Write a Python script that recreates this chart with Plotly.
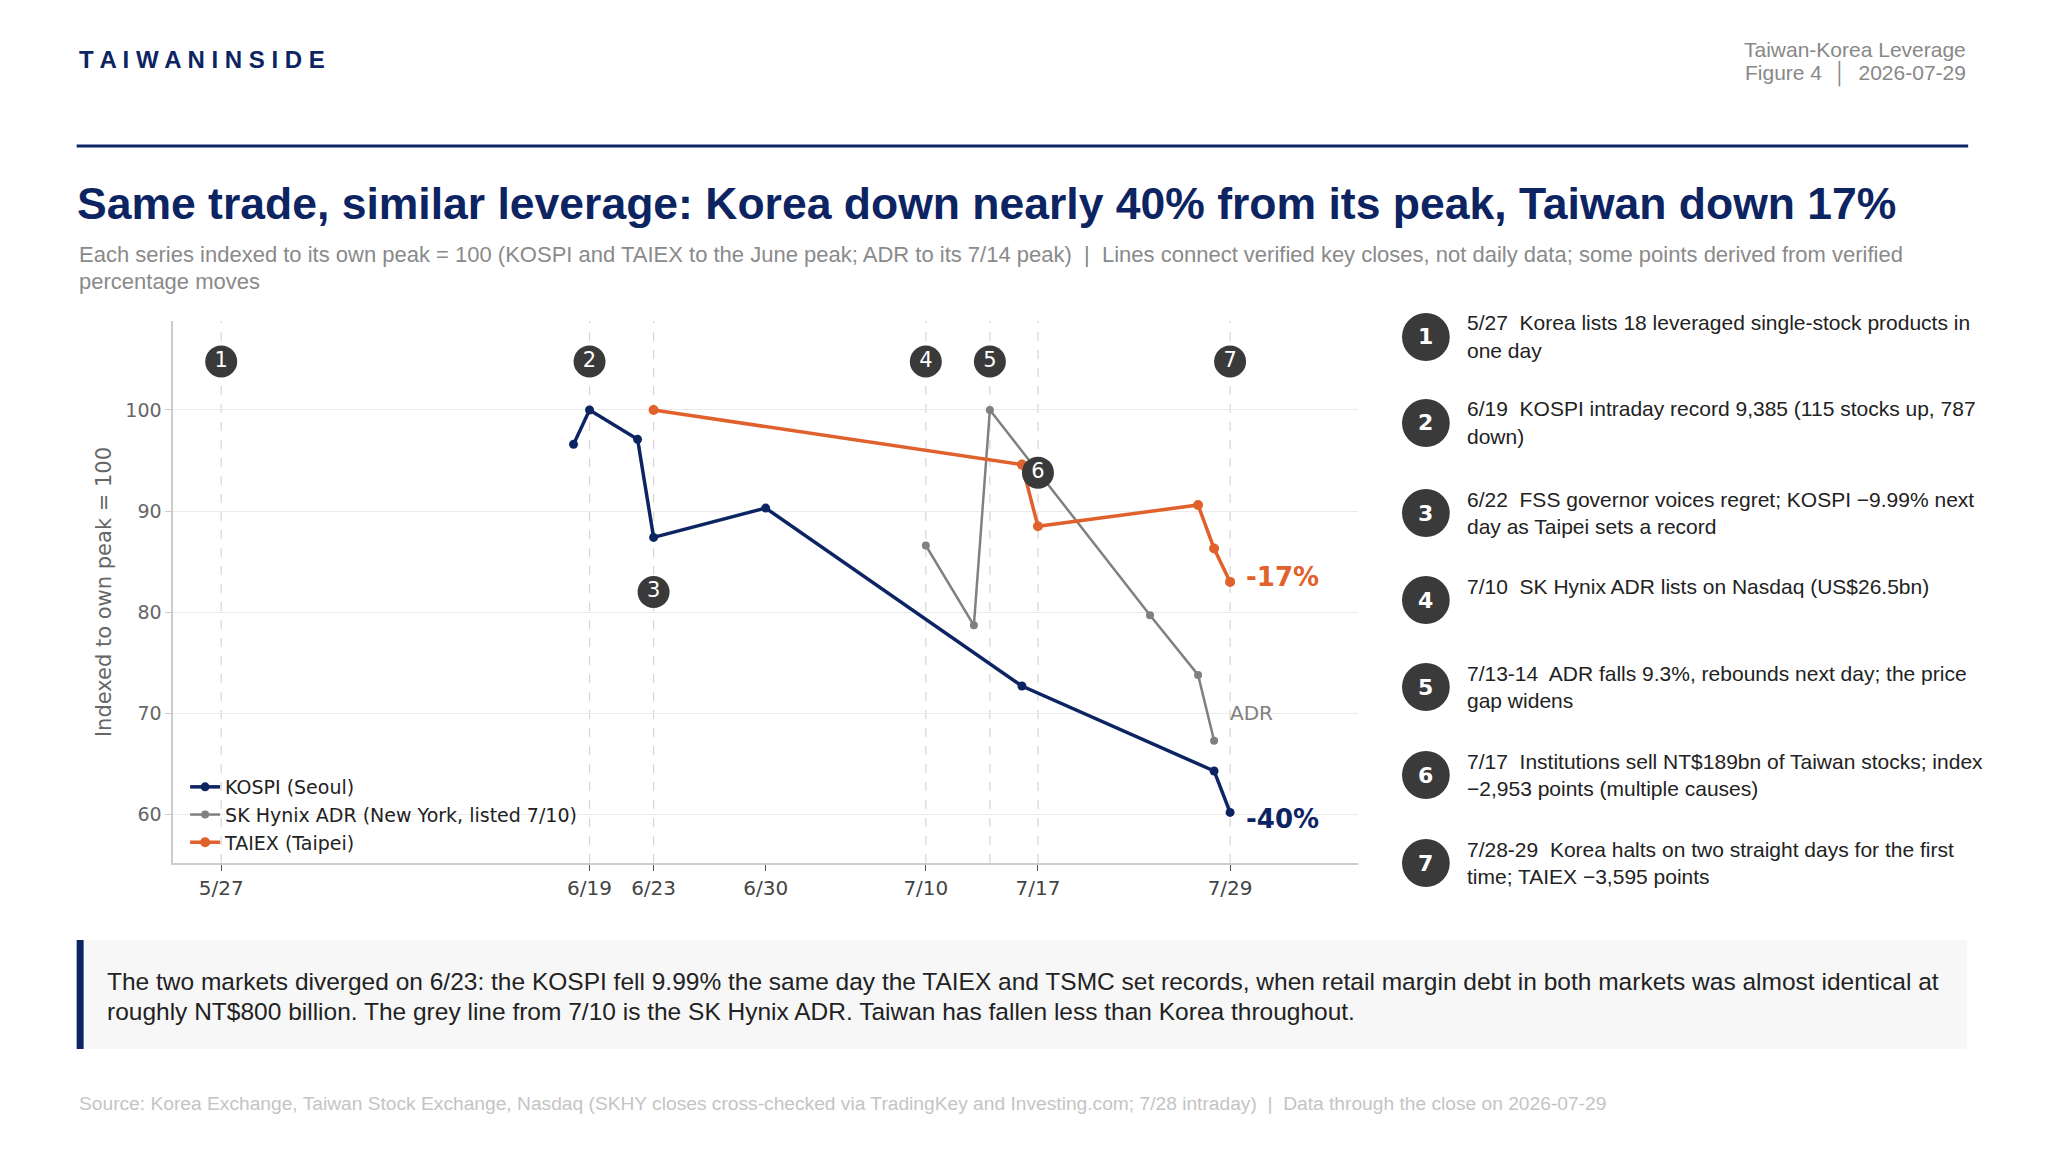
import plotly.graph_objects as go

kospi_dates = ["2026-06-18","2026-06-19","2026-06-22","2026-06-23","2026-06-30","2026-07-16","2026-07-28","2026-07-29"]
kospi_vals = [96.6, 100, 97.1, 87.4, 90.3, 72.7, 64.3, 60.2]
adr_dates = ["2026-07-10","2026-07-13","2026-07-14","2026-07-24","2026-07-27","2026-07-28"]
adr_vals = [86.6, 78.7, 100, 79.7, 73.8, 67.3]
taiex_dates = ["2026-06-23","2026-07-16","2026-07-17","2026-07-27","2026-07-28","2026-07-29"]
taiex_vals = [100, 94.6, 88.5, 90.6, 86.3, 83.0]

event_nums = ["1","2","3","4","5","6","7"]
event_dates = ["2026-05-27","2026-06-19","2026-06-23","2026-07-10","2026-07-14","2026-07-17","2026-07-29"]
event_y = [104.8, 104.8, 82.0, 104.8, 104.8, 93.8, 104.8]

tick_dates = ["2026-05-27","2026-06-19","2026-06-23","2026-06-30","2026-07-10","2026-07-17","2026-07-29"]
tick_labels = ["5/27","6/19","6/23","6/30","7/10","7/17","7/29"]

event_texts = [
    ("5/27", "Korea lists 18 leveraged single-stock products in", "one day"),
    ("6/19", "KOSPI intraday record 9,385 (115 stocks up, 787", "down)"),
    ("6/22", "FSS governor voices regret; KOSPI \u22129.99% next", "day as Taipei sets a record"),
    ("7/10", "SK Hynix ADR lists on Nasdaq (US$26.5bn)", ""),
    ("7/13-14", "ADR falls 9.3%, rebounds next day; the price", "gap widens"),
    ("7/17", "Institutions sell NT$189bn of Taiwan stocks; index", "\u22122,953 points (multiple causes)"),
    ("7/28-29", "Korea halts on two straight days for the first", "time; TAIEX \u22123,595 points"),
]

NAVY = "#0d2463"
ORANGE = "#e0612b"
GREY = "#808080"
DARK = "#3a3a3a"
W, H = 2046, 1151
OFF = 8
FW, FH = W - 2 * OFF, H - 2 * OFF
def px(x): return (x - OFF) / FW * 0.995
def py(y): return 1 - (y - OFF) / FH

fig = go.Figure()
fig.add_trace(go.Scatter(x=kospi_dates, y=kospi_vals, mode="lines+markers", name="KOSPI (Seoul)",
                         line=dict(color=NAVY, width=3.5), marker=dict(size=9, color=NAVY)))
fig.add_trace(go.Scatter(x=adr_dates, y=adr_vals, mode="lines+markers", name="SK Hynix ADR (New York, listed 7/10)",
                         line=dict(color=GREY, width=2.5), marker=dict(size=8, color=GREY)))
fig.add_trace(go.Scatter(x=taiex_dates, y=taiex_vals, mode="lines+markers", name="TAIEX (Taipei)",
                         line=dict(color=ORANGE, width=3.5), marker=dict(size=10, color=ORANGE)))
fig.add_trace(go.Scatter(x=event_dates, y=event_y, mode="markers+text", text=event_nums, showlegend=False,
                         marker=dict(size=32, color=DARK), textposition="middle center",
                         textfont=dict(color="white", size=21, family="DejaVu Sans"), hoverinfo="skip"))

shapes = []
for d in event_dates:
    shapes.append(dict(type="line", xref="x", yref="paper", x0=d, x1=d, y0=py(863), y1=py(321),
                       line=dict(color="#d6d6d6", width=1.2, dash="dash"), layer="below"))
shapes.append(dict(type="line", xref="paper", yref="paper", x0=px(77), x1=px(1978), y0=py(146), y1=py(146),
                   line=dict(color=NAVY, width=3)))
shapes.append(dict(type="rect", xref="paper", yref="paper", x0=px(77), x1=px(1977), y0=py(1049), y1=py(940),
                   fillcolor="#f7f7f7", line=dict(width=0), layer="below"))
shapes.append(dict(type="rect", xref="paper", yref="paper", x0=px(77), x1=px(84), y0=py(1049), y1=py(940),
                   fillcolor=NAVY, line=dict(width=0)))
item_y = [337, 423, 513, 600, 687, 775, 863]
for yy in item_y:
    shapes.append(dict(type="circle", xref="paper", yref="paper", x0=px(1433-24), x1=px(1433+24),
                       y0=py(yy+24), y1=py(yy-24), fillcolor=DARK, line=dict(width=0)))

ann = []
def A(x, y, text, size, color, xanchor="left", yanchor="middle", family="Liberation Sans", **kw):
    ann.append(dict(xref="paper", yref="paper", x=px(x), y=py(y), text=text, showarrow=False,
                    xanchor=xanchor, yanchor=yanchor, align="left" if xanchor == "left" else "right",
                    font=dict(size=size, color=color, family=family), **kw))

A(77, 60, "<b>T A I W A N I N S I D E</b>", 24, NAVY)
A(1978, 49, "Taiwan-Korea Leverage", 21, "#888888", xanchor="right")
A(1978, 74, "Figure 4  \u2502  2026-07-29", 21, "#888888", xanchor="right")
A(75, 203, "<b>Same trade, similar leverage: Korea down nearly 40% from its peak, Taiwan down 17%</b>", 44.5, NAVY)
A(77, 254, "Each series indexed to its own peak = 100 (KOSPI and TAIEX to the June peak; ADR to its 7/14 peak)  |  Lines connect verified key closes, not daily data; some points derived from verified", 22, "#8a8a8a")
A(77, 281, "percentage moves", 22, "#8a8a8a")
for i, (yy, (d, l1, l2)) in enumerate(zip(item_y, event_texts)):
    ann.append(dict(xref="paper", yref="paper", x=px(1433), y=py(yy), text=f"<b>{i+1}</b>", showarrow=False,
                    xanchor="center", yanchor="middle",
                    font=dict(size=22, color="white", family="DejaVu Sans")))
    A(1472, yy - 14, f"{d}  {l1}", 21, "#222222")
    if l2:
        A(1472, yy + 13, l2, 21, "#222222")
A(105, 981, "The two markets diverged on 6/23: the KOSPI fell 9.99% the same day the TAIEX and TSMC set records, when retail margin debt in both markets was almost identical at", 24.5, "#222222")
A(105, 1011, "roughly NT$800 billion. The grey line from 7/10 is the SK Hynix ADR. Taiwan has fallen less than Korea throughout.", 24.5, "#222222")
A(77, 1103, "Source: Korea Exchange, Taiwan Stock Exchange, Nasdaq (SKHY closes cross-checked via TradingKey and Investing.com; 7/28 intraday)  |  Data through the close on 2026-07-29", 19.2, "#c4c4c4")

ann.append(dict(xref="x", yref="y", x=taiex_dates[-1], y=taiex_vals[-1] + 0.5, text="<b>-17%</b>", showarrow=False,
                xanchor="left", xshift=14, font=dict(size=26, color=ORANGE, family="DejaVu Sans")))
ann.append(dict(xref="x", yref="y", x=kospi_dates[-1], y=kospi_vals[-1] - 0.6, text="<b>-40%</b>", showarrow=False,
                xanchor="left", xshift=14, font=dict(size=26, color=NAVY, family="DejaVu Sans")))
ann.append(dict(xref="x", yref="y", x=kospi_dates[-1], y=70.0, text="ADR", showarrow=False,
                xanchor="left", xshift=-2, font=dict(size=20, color=GREY, family="DejaVu Sans")))

fig.update_layout(
    width=FW, height=FH, margin=dict(l=0, r=0, t=0, b=0),
    paper_bgcolor="white", plot_bgcolor="white",
    font=dict(family="DejaVu Sans", color="#555555"),
    shapes=shapes, annotations=ann,
    xaxis=dict(domain=[px(174), px(1365)], range=["2026-05-24", "2026-08-06"], tickvals=tick_dates,
               ticktext=tick_labels, showgrid=False, showline=True, linecolor="#cccccc", linewidth=1.5,
               ticks="outside", ticklen=6, tickcolor="#555555", tickfont=dict(size=20, color="#444444"), zeroline=False),
    yaxis=dict(domain=[py(863), py(321)], range=[55.2, 108.8], tickvals=[60, 70, 80, 90, 100],
               showgrid=True, gridcolor="#ebebeb", showline=True, linecolor="#cccccc", linewidth=1.5,
               ticks="outside", ticklen=6, tickcolor="#cccccc", tickfont=dict(size=19, color="#666666"),
               title=dict(text="Indexed to own peak = 100", font=dict(size=21, color="#666666"), standoff=8), zeroline=False),
    legend=dict(x=px(186), y=py(768), xanchor="left", yanchor="top", bgcolor="rgba(255,255,255,0)",
                font=dict(size=19, color="#222222", family="DejaVu Sans"), tracegroupgap=2),
    showlegend=True,
)
fig.write_html("out.html")
